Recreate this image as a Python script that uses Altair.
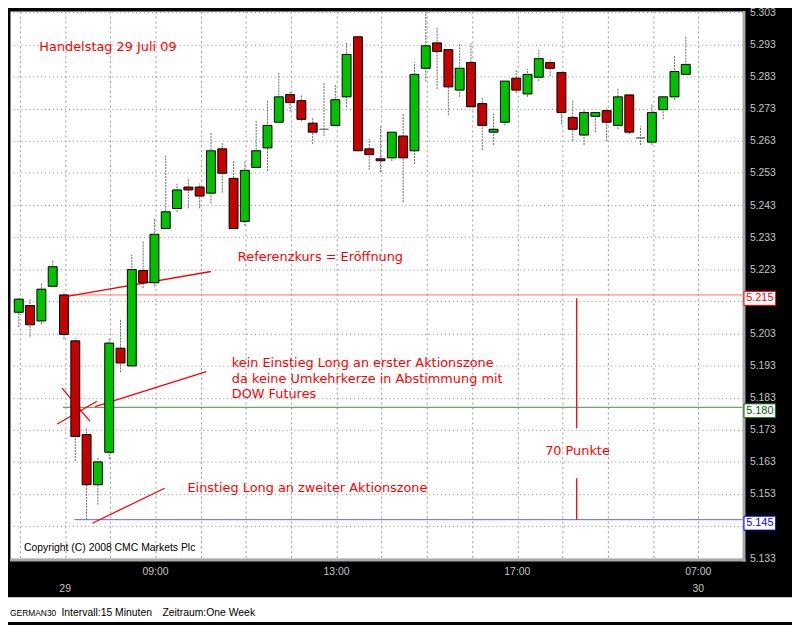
import altair as alt
import pandas as pd

# ---------------- data (GERMAN30, 15-minute candles) ----------------
opens = [5.2096, 5.2117, 5.2069, 5.2177, 5.2150, 5.2007, 5.1715, 5.1559, 5.1660, 5.1984,
         5.1929, 5.2226, 5.2188, 5.2357, 5.2419, 5.2486, 5.2486, 5.2467, 5.2605, 5.2513,
         5.2379, 5.2547, 5.2608, 5.2688, 5.2774, 5.2755, 5.2685, 5.2666, 5.2678, 5.2767,
         5.2954, 5.2605, 5.2574, 5.2577, 5.2645, 5.2599, 5.2856, 5.2935, 5.2914, 5.2788,
         5.2874, 5.2746, 5.2657, 5.2688, 5.2825, 5.2776, 5.2828, 5.2874, 5.2843, 5.2703,
         5.2648, 5.2706, 5.2724, 5.2678, 5.2773, 5.2639, 5.2626, 5.2727, 5.2767, 5.2837]
highs = [5.2141, 5.2135, 5.2186, 5.2257, 5.2155, 5.2015, 5.1738, 5.1646, 5.2015, 5.2076,
         5.2275, 5.2316, 5.2386, 5.2584, 5.2496, 5.2514, 5.2497, 5.2655, 5.2623, 5.2566,
         5.2566, 5.2695, 5.2755, 5.2843, 5.2786, 5.2774, 5.2703, 5.2813, 5.2805, 5.2935,
         5.2954, 5.2636, 5.2675, 5.2657, 5.2716, 5.2875, 5.3030, 5.2984, 5.2914, 5.2935,
         5.2935, 5.2764, 5.2715, 5.2816, 5.2853, 5.2853, 5.2914, 5.2883, 5.2843, 5.2755,
         5.2727, 5.2718, 5.2733, 5.2795, 5.2773, 5.2675, 5.2746, 5.2767, 5.2895, 5.2954]
lows = [5.2050, 5.2020, 5.2059, 5.2177, 5.2012, 5.1633, 5.1450, 5.1497, 5.1638, 5.1909,
        5.1929, 5.2171, 5.2176, 5.2357, 5.2408, 5.2420, 5.2420, 5.2435, 5.2469, 5.2357,
        5.2365, 5.2547, 5.2536, 5.2688, 5.2721, 5.2691, 5.2620, 5.2646, 5.2678, 5.2735,
        5.2599, 5.2540, 5.2532, 5.2567, 5.2439, 5.2558, 5.2815, 5.2791, 5.2709, 5.2767,
        5.2736, 5.2601, 5.2617, 5.2678, 5.2779, 5.2767, 5.2816, 5.2831, 5.2681, 5.2629,
        5.2617, 5.2657, 5.2629, 5.2666, 5.2651, 5.2617, 5.2617, 5.2697, 5.2758, 5.2837]
closes = [5.2137, 5.2057, 5.2168, 5.2238, 5.2027, 5.1709, 5.1559, 5.1630, 5.2000, 5.1938,
          5.2229, 5.2188, 5.2339, 5.2409, 5.2477, 5.2477, 5.2458, 5.2599, 5.2529, 5.2357,
          5.2538, 5.2599, 5.2678, 5.2767, 5.2749, 5.2697, 5.2657, 5.2666, 5.2758, 5.2899,
          5.2599, 5.2587, 5.2568, 5.2657, 5.2577, 5.2837, 5.2926, 5.2908, 5.2798, 5.2856,
          5.2736, 5.2678, 5.2666, 5.2816, 5.2788, 5.2837, 5.2886, 5.2856, 5.2718, 5.2666,
          5.2718, 5.2718, 5.2688, 5.2767, 5.2657, 5.2639, 5.2718, 5.2767, 5.2846, 5.2868]

y_ticks = [5.133, 5.143, 5.153, 5.163, 5.173, 5.183, 5.193, 5.203, 5.213,
           5.223, 5.233, 5.243, 5.253, 5.263, 5.273, 5.283, 5.293, 5.303]
hour_grid = [0.1, 4.1, 8.1, 12.1, 16.1, 20.1, 24.1, 28.1, 32.1, 36.1,
             40.1, 44.1, 48.1, 52.1, 56.1, 60.1]

time_pos = [12.1, 28.1, 44.1, 60.1]
time_labels = ["09:00", "13:00", "17:00", "07:00"]
day_pos = [4.1, 60.1]
day_labels = ["29", "30"]

ref_values = [5.215, 5.180, 5.145]
ref_labels = ["5.215", "5.180", "5.145"]
ref_start = [4.4, 3.9, 4.9]
ref_line_colors = ["#ff6b6b", "#4d8a4d", "#6060ff"]
ref_box_colors = ["#ff0000", "#006400", "#0000ff"]

seg_x1 = [4.4, 3.83, 3.40, 6.75, 6.51, 49.35, 49.35]
seg_y1 = [5.2146, 5.1860, 5.1748, 5.1802, 5.1439, 5.2140, 5.1579]
seg_x2 = [17.0, 6.29, 6.92, 16.59, 12.90, 49.35, 49.35]
seg_y2 = [5.2223, 5.1757, 5.1819, 5.1911, 5.1548, 5.1735, 5.1450]

note_text = ["Handelstag 29 Juli 09", "Referenzkurs = Eröffnung",
             "kein Einstieg Long an erster Aktionszone",
             "da keine Umkehrkerze in Abstimmung mit", "DOW Futures",
             "70 Punkte", "Einstieg Long an zweiter Aktionszone"]
note_x = [1.82, 19.38, 18.84, 18.84, 18.84, 46.56, 14.92]
note_y = [5.2911, 5.2256, 5.1926, 5.1875, 5.1828, 5.1652, 5.1536]

copyright_text = "Copyright (C) 2008 CMC Markets Plc"
footer_parts = ["GERMAN30", "Intervall:15 Minuten", "Zeitraum:One Week"]
footer_sizes = [8.5, 10.5, 10.5]

# ---------------- chart ----------------
W, H = 740, 553
xs = alt.Scale(domain=[-0.34, 63.58], nice=False, zero=False)
ys = alt.Scale(domain=[5.1329, 5.3034], nice=False, zero=False)

UP, DOWN, FLAT = "#00c000", "#c40000", "#707070"
df = pd.DataFrame({"i": list(range(len(opens))), "o": opens, "h": highs,
                   "l": lows, "c": closes})
df["fillc"] = [UP if c > o else (DOWN if c < o else FLAT) for o, c in zip(opens, closes)]
df["strokec"] = ["black" if c != o else FLAT for o, c in zip(opens, closes)]

LAB = "Liberation Sans"
GREY = "#c4c4c4"

x_axis = alt.Axis(values=hour_grid, grid=True, gridDash=[2, 3], gridColor="#9a9a9a",
                  gridOpacity=1, gridWidth=1,
                  labels=False, ticks=False, domain=False, title=None)
y_axis = alt.Axis(orient="right", values=y_ticks, grid=True, gridDash=[1, 3],
                  gridColor="#8c8c8c", gridOpacity=1, gridWidth=1,
                  ticks=False, domain=False, title=None,
                  labelColor=GREY, labelFont=LAB, labelFontSize=10.5, labelPadding=7,
                  labelAlign="left", labelBaseline="middle", labelOverlap=False,
                  labelExpr="abs(datum.value-5.213)<0.0004 || abs(datum.value-5.143)<0.0004 ? '' : format(datum.value, '.3f')")


def X(field):
    return alt.X(field, scale=xs, axis=x_axis)


def Y(field):
    return alt.Y(field, scale=ys, axis=y_axis)


base = alt.Chart(df)

wicks = base.mark_rule(color="#6a6a6a", strokeWidth=1, strokeDash=[2, 1]).encode(
    x=X("i:Q"), y=Y("l:Q"), y2="h:Q")

bodies = base.mark_bar(size=9, strokeWidth=1).encode(
    x=X("i:Q"),
    y=Y("o:Q"),
    y2="c:Q",
    fill=alt.Fill("fillc:N", scale=None),
    stroke=alt.Stroke("strokec:N", scale=None),
)

refs = pd.DataFrame({"v": ref_values, "lab": ref_labels, "start": ref_start,
                     "lc": ref_line_colors, "bc": ref_box_colors})

ref_lines = alt.Chart(refs).mark_rule(strokeWidth=1).encode(
    x=X("start:Q"),
    x2=alt.value(W),
    y=Y("v:Q"),
    stroke=alt.Stroke("lc:N", scale=None),
)

box_shape = "M-1,-0.44L1,-0.44L1,0.44L-1,0.44Z"
ref_boxes = alt.Chart(refs).mark_point(shape=box_shape, size=1024, filled=True,
                                       strokeWidth=1, yOffset=3.5, opacity=1,
                                       fill="white").encode(
    x=alt.value(757.5),
    y=Y("v:Q"),
    stroke=alt.Stroke("bc:N", scale=None),
)
ref_text = alt.Chart(refs).mark_text(font=LAB, fontSize=11, align="center",
                                     baseline="middle", yOffset=3.5).encode(
    x=alt.value(757.5),
    y=Y("v:Q"),
    text="lab:N",
    fill=alt.Fill("bc:N", scale=None),
)

segs = pd.DataFrame({"x1": seg_x1, "y1": seg_y1, "x2": seg_x2, "y2": seg_y2})
seg_lines = alt.Chart(segs).mark_rule(color="#ff0000", strokeWidth=1.3).encode(
    x=X("x1:Q"), y=Y("y1:Q"), x2="x2:Q", y2="y2:Q")

notes = pd.DataFrame({"t": note_text, "x": note_x, "y": note_y})
note_marks = alt.Chart(notes).mark_text(font="DejaVu Sans", fontSize=13, color="#ff0000",
                                        align="left", baseline="alphabetic").encode(
    x=X("x:Q"), y=Y("y:Q"), text="t:N")

copy_df = pd.DataFrame({"t": [copyright_text], "x": [0.47], "y": [5.1352]})
copy_mark = alt.Chart(copy_df).mark_text(font=LAB, fontSize=10.5, color="black",
                                         align="left", baseline="alphabetic").encode(
    x=X("x:Q"), y=Y("y:Q"), text="t:N")

tl = pd.DataFrame({"i": time_pos, "t": time_labels})
time_marks = alt.Chart(tl).mark_text(font=LAB, fontSize=10.5, color=GREY,
                                     align="center", baseline="middle").encode(
    x=X("i:Q"), y=alt.value(567), text="t:N")
dl = pd.DataFrame({"i": day_pos, "t": day_labels})
day_marks = alt.Chart(dl).mark_text(font=LAB, fontSize=10.5, color=GREY,
                                    align="center", baseline="middle").encode(
    x=X("i:Q"), y=alt.value(584), text="t:N")

one = pd.DataFrame({"k": [0]})
footer_bg = alt.Chart(one).mark_rect(color="white").encode(
    x=alt.value(-2), x2=alt.value(790), y=alt.value(592), y2=alt.value(617))
footer_df = pd.DataFrame({"t": footer_parts, "px": [0, 52, 154], "fs": footer_sizes})
footer_text = alt.Chart(footer_df).mark_text(font=LAB, color="black",
                                             align="left", baseline="middle").encode(
    x=alt.X("px:Q", scale=None), y=alt.value(608), text="t:N",
    size=alt.Size("fs:Q", scale=None, legend=None))

frame_r = alt.Chart(one).mark_rule(color="#a8a8a8", strokeWidth=3).encode(
    x=alt.value(W + 1.5), y=alt.value(0), y2=alt.value(H + 3))
frame_b = alt.Chart(one).mark_rule(color="#a8a8a8", strokeWidth=3).encode(
    x=alt.value(0), x2=alt.value(W + 3), y=alt.value(H + 1.5))

chart = alt.layer(
    wicks, ref_lines, seg_lines, bodies, note_marks, copy_mark,
    frame_r, frame_b, ref_boxes, ref_text, time_marks, day_marks,
    footer_bg, footer_text,
).properties(
    width=W, height=H,
    autosize=alt.AutoSizeParams(type="none"),
    padding={"left": 2, "top": 0, "right": 50, "bottom": 64},
).configure(background="black").configure_view(
    fill="white", stroke="transparent"
).configure_axis(labelOverlap=False)

chart.save("out.html", embed_options={"renderer": "svg", "actions": False})
